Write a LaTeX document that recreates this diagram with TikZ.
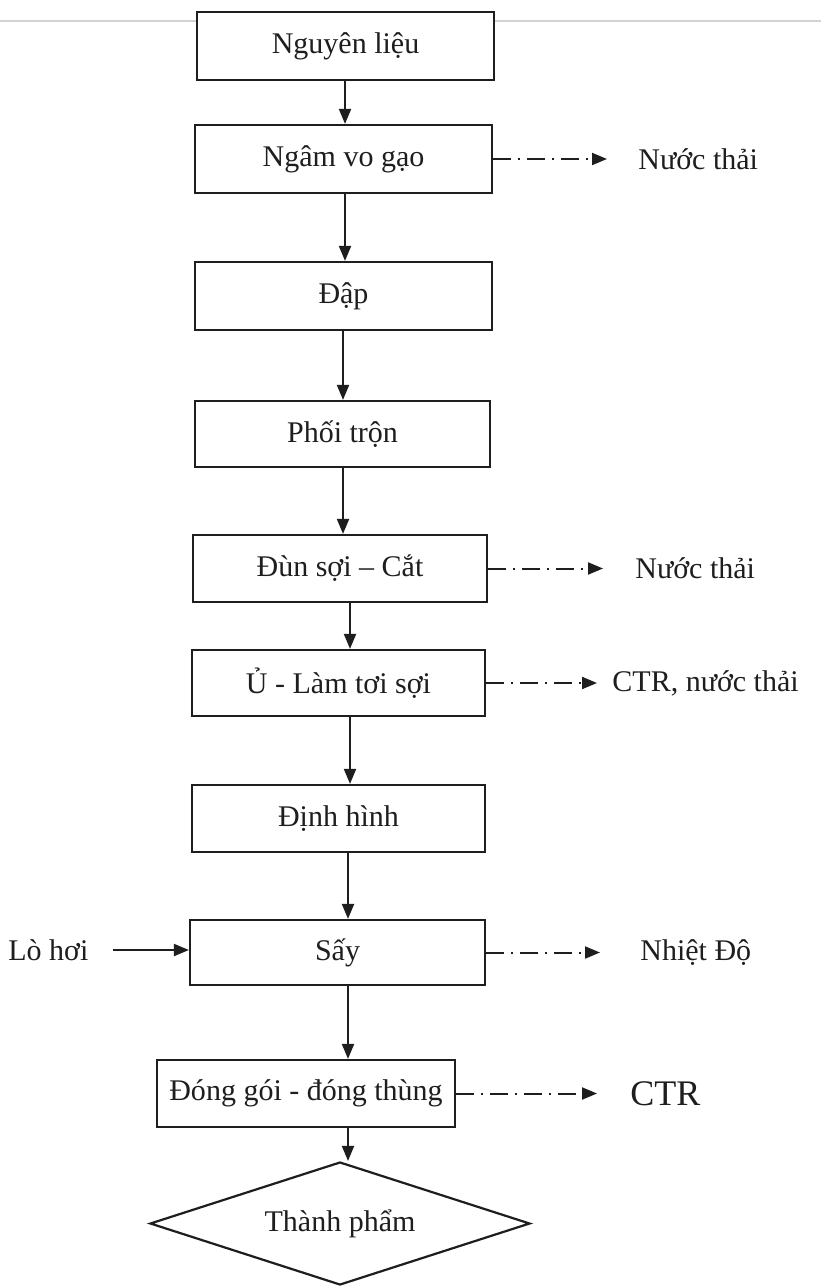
\documentclass[tikz,border=0pt]{standalone}
\usepackage{fontspec}
\setmainfont{Liberation Serif}
\usetikzlibrary{arrows.meta,shapes.geometric}
\definecolor{ink}{HTML}{1E1E1E}
\definecolor{edge}{HTML}{D2D2D2}
\begin{document}
\begin{tikzpicture}[x=0.5pt,y=-0.5pt,
  stepbox/.style={draw=ink,line width=1.1pt,rectangle,inner sep=0pt,
    font=\fontsize{15}{18}\selectfont,text=ink},
  outlabel/.style={inner sep=0pt,font=\fontsize{15}{18}\selectfont,text=ink},
  flow/.style={draw=ink,line width=1pt,-{Triangle[length=7.5pt,width=6pt]}},
  waste/.style={draw=ink,line width=1pt,dash pattern=on 9pt off 3.5pt on 1pt off 3.5pt,
    -{Triangle[length=7.5pt,width=6pt]}},
]
\useasboundingbox (0,0) rectangle (821,1288);
\fill[white] (0,0) rectangle (821,1288);

% faint page edge
\draw[edge,line width=0.6pt] (0,21) -- (197,21);
\draw[edge,line width=0.6pt] (494,21) -- (821,21);

% process steps
\node[stepbox,minimum width=148.5pt,minimum height=34pt] (n1) at (345.5,46) {Nguyên liệu};
\node[stepbox,minimum width=148.5pt,minimum height=34pt] (n2) at (343.5,159) {Ngâm vo gạo};
\node[stepbox,minimum width=148.5pt,minimum height=34pt] (n3) at (343.5,296) {Đập};
\node[stepbox,minimum width=147.5pt,minimum height=33pt] (n4) at (342.5,434) {Phối trộn};
\node[stepbox,minimum width=147pt,minimum height=33.5pt] (n5) at (340,568.5) {Đùn sợi – Cắt};
\node[stepbox,minimum width=146.5pt,minimum height=33pt] (n6) at (338.5,683) {Ủ - Làm tơi sợi};
\node[stepbox,minimum width=146.5pt,minimum height=33.5pt] (n7) at (338.5,818.5) {Định hình};
\node[stepbox,minimum width=147.5pt,minimum height=32.5pt] (n8) at (337.5,952.5) {Sấy};
\node[stepbox,minimum width=149pt,minimum height=33.5pt] (n9) at (306,1093.5) {Đóng gói - đóng thùng};
\node[stepbox,diamond,aspect=3,minimum width=190pt,minimum height=61.5pt] (n10) at (340,1223.5) {Thành phẩm};

% column positions of the main flow
\coordinate (c1) at (345,0);
\coordinate (c2) at (343,0);
\coordinate (c3) at (350,0);
\coordinate (c4) at (348,0);

\draw[flow] (n1.south -| c1) -- (n2.north -| c1);
\draw[flow] (n2.south -| c1) -- (n3.north -| c1);
\draw[flow] (n3.south -| c2) -- (n4.north -| c2);
\draw[flow] (n4.south -| c2) -- (n5.north -| c2);
\draw[flow] (n5.south -| c3) -- (n6.north -| c3);
\draw[flow] (n6.south -| c3) -- (n7.north -| c3);
\draw[flow] (n7.south -| c4) -- (n8.north -| c4);
\draw[flow] (n8.south -| c4) -- (n9.north -| c4);
\draw[flow] (n9.south -| c4) -- (n10.north -| c4);

% outputs
\node[outlabel,anchor=west] (t1) at (638,159) {Nước thải};
\node[outlabel,anchor=west] (t2) at (635,568.5) {Nước thải};
\node[outlabel,anchor=west] (t3) at (612,683) {CTR, nước thải};
\node[outlabel,anchor=west] (t4) at (640,952.5) {Nhiệt Độ};
\node[outlabel,anchor=west,font=\fontsize{18}{21}\selectfont] (t5) at (630,1093.5) {CTR};

\draw[waste,shorten >=15.5pt] (n2.east) -- (t1.west);
\draw[waste,shorten >=16pt] (n5.east) -- (t2.west);
\draw[waste,shorten >=7.5pt] (n6.east) -- (t3.west);
\draw[waste,shorten >=20pt] (n8.east) -- (t4.west);
\draw[waste,shorten >=16.5pt] (n9.east) -- (t5.west);

% input
\node[outlabel,anchor=west] (lo) at (8,950) {Lò hơi};
\draw[flow,shorten <=12pt] (lo.east) -- (lo.east -| n8.west);
\end{tikzpicture}
\end{document}
